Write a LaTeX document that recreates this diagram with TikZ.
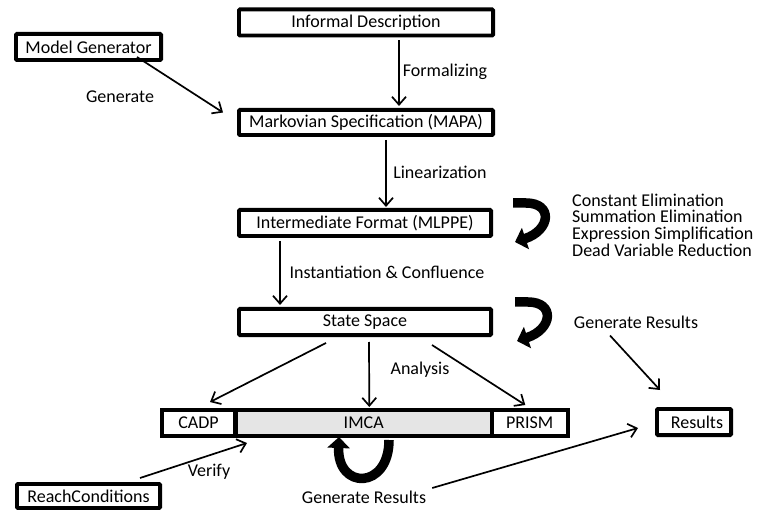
\documentclass[tikz,border=0pt]{standalone}
\usepackage{fontspec}
\setmainfont{Carlito}
\usetikzlibrary{arrows.meta,calc}
\definecolor{imcagray}{RGB}{229,229,229}
\begin{document}
\begin{tikzpicture}[x=1pt,y=-1pt,
  txt/.style={font=\fontsize{18}{16.7}\selectfont},
  box/.style={txt, draw=black, line width=3.8pt, fill=white, inner sep=0pt,
              rounded corners=1pt, minimum height=26.2pt},
  lbl/.style={txt, inner sep=0pt},
  arr/.style={line width=1.7pt, -{Straight Barb[length=8pt,width=14pt]}},
  curl/.style={line width=9.5pt, -{Triangle[length=11pt,width=22pt]}},
]
\useasboundingbox (0,0) rectangle (757,510);

% main pipeline boxes
\node[box, minimum width=254.2pt] (info)  at (366,22.5) {Informal Description};
\node[box, minimum width=145.2pt] (gen)   at (88.5,47) {Model Generator};
\node[box, minimum width=254.2pt, minimum height=25.2pt] (mapa) at (366,122.5) {Markovian Specification (MAPA)};
\node[box, minimum width=252.2pt] (mlppe) at (365,223) {Intermediate Format (MLPPE)};
\node[box, minimum width=252.2pt] (state) at (365,322) {State Space};

% tool bar: three boxes sharing their borders
\node[box, rounded corners=0pt, minimum width=73.2pt] (cadp)  at (198.5,423) {CADP};
\node[box, rounded corners=0pt, minimum width=256pt, fill=imcagray] (imca) at (363.7,423) {IMCA};
\node[box, rounded corners=0pt, minimum width=76pt] (prism) at (529.7,423) {PRISM};
\draw[line width=3.8pt] (cadp.north west) ++(1.9,1.9) rectangle ($(prism.south east)+(-1.9,-1.9)$);

\node[box, minimum width=74.2pt] (results) at (694,422) {\hspace*{6pt}Results};
\node[box, minimum width=143.2pt, minimum height=24.2pt] (reach) at (88.5,496) {ReachConditions};

% labels
\node[lbl] (lform) at (445,72)  {Formalizing};
\node[lbl] (lgen)  at (120,97)  {Generate};
\node[lbl] (llin)  at (440,172) {Linearization};
\node[lbl] (linst) at (387,272) {Instantiation \& Confluence};
\node[lbl] (lana)  at (420,370) {Analysis};
\node[lbl] (lver)  at (209,472) {Verify};
\node[lbl] (grtop) at (636,322) {Generate Results};
\node[lbl] (grbot) at (364,497) {Generate Results};
\node[lbl, align=left, anchor=west] (opts) at (572,225)
  {Constant Elimination\\Summation Elimination\\Expression Simplification\\Dead Variable Reduction};

% connectors
\draw[arr] ($(info.south)+(33,3)$)  -- ($(mapa.north)+(33,-2)$);
\draw[arr] ($(gen.south east)+(-26,-5)$) -- ($(mapa.west)+(-14,-10)$);
\draw[arr] ($(mapa.south)+(20,3)$)  -- ($(mlppe.north)+(21,-1)$);
\draw[arr] ($(mlppe.south)+(-85,3)$) -- ($(state.north)+(-85,-2)$);
\draw[arr] ($(state.south)+(-39,6)$) -- ($(cadp.north)+(11.5,-6)$);
\draw[arr] ($(state.south)+(4,5)$)   -- ($(imca.north)+(5.6,-1)$);
\draw[arr] ($(state.south)+(67,8)$)  -- ($(prism.north)+(-4.4,-3)$);
\draw[arr] ($(grtop.south)+(-26,7)$) -- ($(results.north)+(-34,-17)$);
\draw[arr] ($(reach.north)+(51.5,-4)$) -- ($(cadp.south east)+(10,5)$);
\draw[arr] ($(grbot.east)+(6,-9)$)   -- ($(results.west)+(-17,6)$);

% self-loop arrows
\draw[curl] (513,203) -- (526,203) .. controls (553,203) and (551,230) .. (515,242);
\draw[curl] (515,302) -- (528,302) .. controls (555,302) and (553,329) .. (517,341);
\draw[curl] (389,440) .. controls (389,490) and (337,490) .. (339,437);
\end{tikzpicture}
\end{document}
